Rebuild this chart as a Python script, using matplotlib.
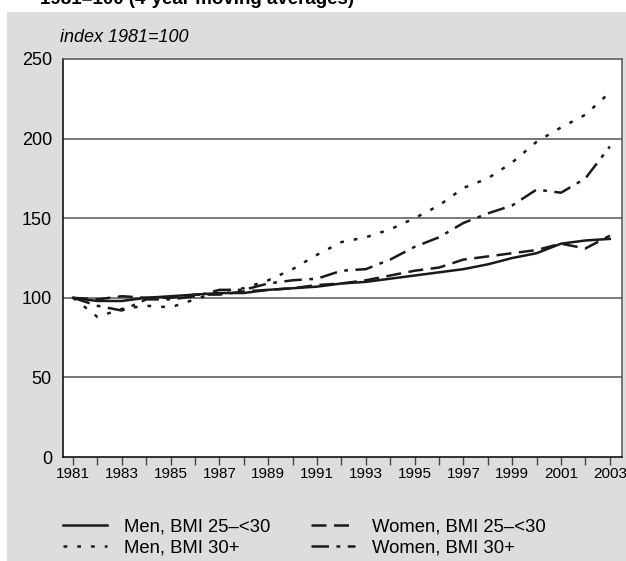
import matplotlib.pyplot as plt
from matplotlib.patches import Rectangle

plt.rcParams['font.family'] = ['Liberation Sans', 'DejaVu Sans']

years = list(range(1981, 2004))
men_overweight = [100, 98, 98, 100, 101, 102, 103, 103, 105, 106, 107, 109, 110,
                  112, 114, 116, 118, 121, 125, 128, 134, 136, 137]
women_overweight = [100, 99, 101, 100, 100, 102, 102, 104, 105, 106, 108, 109, 111,
                    114, 117, 119, 124, 126, 128, 130, 134, 131, 139]
men_obese = [100, 88, 93, 95, 94, 99, 104, 106, 111, 118, 127, 135, 138,
             143, 150, 158, 169, 175, 185, 198, 207, 215, 229]
women_obese = [100, 95, 92, 99, 99, 101, 105, 105, 109, 111, 112, 117, 118,
               124, 132, 138, 147, 153, 158, 168, 166, 175, 195]
labels = ['Men, BMI 25\u2013<30', 'Women, BMI 25\u2013<30', 'Men, BMI 30+', 'Women, BMI 30+']

W, H = 626, 561
fig = plt.figure(figsize=(W / 100, H / 100), dpi=100, facecolor='white')
# grey panel behind the chart
fig.patches.append(Rectangle((7 / W, 0), 1 - 7 / W, (H - 12) / H,
                             transform=fig.transFigure, facecolor='#dcdddf',
                             edgecolor='none', zorder=0))
# title line, cut at the top edge as in the source
fig.text(40 / W, 1 - 4 / H, '1981=100 (4-year moving averages)', fontsize=13.5,
         fontweight='bold', va='baseline', ha='left')

ax = fig.add_axes([63 / W, 1 - 457 / H, (622 - 63) / W, (457 - 59) / H])
ax.set_zorder(2)
ax.set_facecolor('white')

lw = 1.8
ax.plot(years, men_overweight, color='#1a1a1a', lw=lw, ls='-')
ax.plot(years, women_overweight, color='#1a1a1a', lw=lw, ls=(0, (6, 3)))
ax.plot(years, men_obese, color='#1a1a1a', lw=lw, ls=(0, (1.5, 4)))
ax.plot(years, women_obese, color='#1a1a1a', lw=lw, ls=(0, (7, 3, 1.5, 3)))

ax.set_xlim(1980.59, 2003.5)
ax.set_ylim(0, 250)
ax.set_yticks([0, 50, 100, 150, 200, 250])
ax.set_xticks(years)
ax.set_xticklabels([str(y) if y % 2 == 1 else '' for y in years], fontsize=11)
ax.tick_params(axis='x', direction='out', length=6, width=1, color='#444444', pad=1)
ax.tick_params(axis='y', length=0, labelsize=13, pad=8)
for y in [50, 100, 150, 200]:
    ax.axhline(y, color='#555555', lw=1.1, zorder=0)
for s in ['top', 'right']:
    ax.spines[s].set_color('#555555')
    ax.spines[s].set_linewidth(1.1)
ax.spines['left'].set_linewidth(1.1)
ax.spines['bottom'].set_linewidth(1.1)

fig.text(60 / W, 1 - 37 / H, 'index 1981=100', fontsize=13, style='italic',
         va='center', ha='left')

handles = ax.get_lines()[:4]
leg = fig.legend([handles[0], handles[2], handles[1], handles[3]],
                 [labels[0], labels[2], labels[1], labels[3]],
                 ncol=2, loc='upper left', bbox_to_anchor=(63 / W, 1 - 518 / H),
                 frameon=False, fontsize=13.3, handlelength=2.4, columnspacing=2.2,
                 labelspacing=0.25, handletextpad=0.9, borderpad=0, borderaxespad=0)

fig.savefig('out.png', dpi=100)
